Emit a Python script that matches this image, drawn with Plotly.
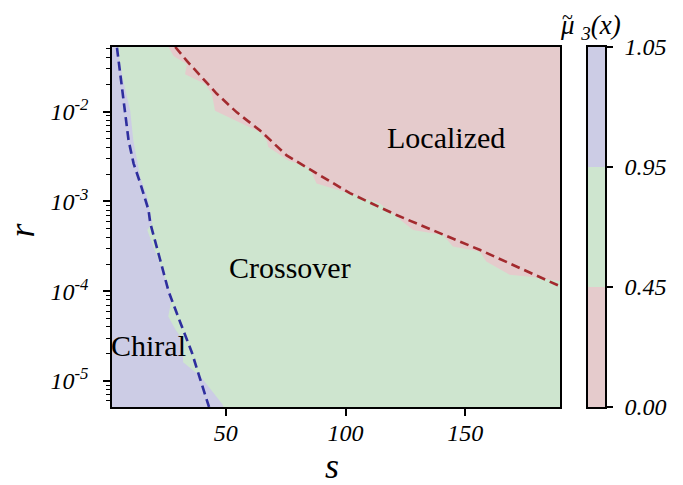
import plotly.graph_objects as go

# ---------------- data ----------------
# Chiral / crossover boundary (s, log10 r), from top to bottom
chiral_s = [4.7, 7.2, 10.1, 11.4, 14.3, 17.2, 19.3, 17.2, 23.5, 27.6, 26.0, 28.9, 31.8, 32.2, 39.3, 48.5, 49.0]
chiral_logr = [-1.28, -1.657, -1.989, -2.321, -2.731, -2.952, -3.240, -3.318, -3.761, -4.060, -4.281, -4.425,
               -4.536, -4.791, -4.946, -5.256, -5.29]

# Localized / crossover boundary (s, log10 r), from left to right
local_s = [26.1, 28.2, 33.75, 33.0, 41.4, 44.2, 45.5, 64.3, 67.1, 67.75, 76.1, 78.2, 85.1, 87.9, 101.8,
           112.9, 114.3, 128.2, 140.7, 144.8, 156.0, 158.75, 168.5, 178.2, 189.5]
local_logr = [-1.28, -1.38, -1.472, -1.583, -1.693, -1.804, -1.989, -2.229, -2.321, -2.395, -2.543, -2.561,
              -2.635, -2.801, -2.911, -3.004, -3.022, -3.318, -3.373, -3.503, -3.558, -3.669, -3.816, -3.842, -3.89]

# Dashed fitted boundaries
fit_chiral_s = [4.58, 5.96, 8.04, 9.42, 11.5, 14.3, 17.75, 18.46, 22.6, 26.1, 31.0, 35.8, 39.3, 42.75, 43.0]
fit_chiral_logr = [-1.288, -1.579, -1.989, -2.321, -2.576, -2.797, -3.096, -3.240, -3.650, -4.001, -4.348,
                   -4.680, -4.979, -5.256, -5.29]
fit_local_s = [28.9, 33.75, 46.25, 54.6, 64.3, 75.4, 87.9, 101.8, 121.25, 128.0, 155.95, 189.5]
fit_local_logr = [-1.28, -1.435, -1.801, -2.008, -2.210, -2.487, -2.687, -2.908, -3.152, -3.229, -3.539, -3.945]

s_range = [2.5, 189.5]
logr_range = [-5.29, -1.28]

levels = [0.00, 0.45, 0.95, 1.05]
level_labels = ["0.00", "0.45", "0.95", "1.05"]

phase_names = ["Localized", "Crossover", "Chiral"]
phase_s = [141.8, 76.8, 17.6]
phase_logr = [-2.288, -3.739, -4.602]

x_ticks = [50, 100, 150]
y_decades = [-5, -4, -3, -2]

# ---------------- styles ----------------
C_BLUE = "#cccce5"
C_GREEN = "#cee5cf"
C_RED = "#e5cbcc"
L_BLUE = "#2e2e9e"
L_RED = "#a32a2e"
FONT = "Liberation Serif"

fig = go.Figure()

# Chiral region: left edge + boundary
bx = [s_range[0]] + chiral_s + [s_range[0]]
by = [logr_range[1]] + chiral_logr + [logr_range[0]]
fig.add_trace(go.Scatter(x=bx, y=[10 ** v for v in by], fill="toself", fillcolor=C_BLUE,
                         mode="lines", line=dict(width=0, color=C_BLUE), hoverinfo="skip", showlegend=False))

# Localized region: boundary + top-right corner
rx = local_s + [s_range[1], local_s[0]]
ry = local_logr + [logr_range[1], logr_range[1]]
fig.add_trace(go.Scatter(x=rx, y=[10 ** v for v in ry], fill="toself", fillcolor=C_RED,
                         mode="lines", line=dict(width=0, color=C_RED), hoverinfo="skip", showlegend=False))

# Dashed fits
fig.add_trace(go.Scatter(x=fit_chiral_s, y=[10 ** v for v in fit_chiral_logr], mode="lines",
                         line=dict(color=L_BLUE, width=2.6, dash="9px,5px"), showlegend=False))
fig.add_trace(go.Scatter(x=fit_local_s, y=[10 ** v for v in fit_local_logr], mode="lines",
                         line=dict(color=L_RED, width=2.6, dash="9px,5px"), showlegend=False))

# Phase labels
for name, sx, ly in zip(phase_names, phase_s, phase_logr):
    fig.add_annotation(x=sx, y=ly, xref="x", yref="y", text=name, showarrow=False,
                       font=dict(family=FONT, size=30, color="black"))

# Colorbar drawn as a small heatmap on its own axes (evenly spaced bands)
n = len(levels) - 1
band_colors = [C_RED, C_GREEN, C_BLUE]
cs = []
for i, c in enumerate(band_colors):
    cs.append([i / n, c])
    cs.append([(i + 1) / n, c])
fig.add_trace(go.Heatmap(z=[[i] for i in range(n)], x=[0.5], y=[i + 0.5 for i in range(n)],
                         zmin=-0.5, zmax=n - 0.5, colorscale=cs, showscale=False, hoverinfo="skip",
                         xaxis="x2", yaxis="y2"))

# Colorbar title  (tilde drawn over mu)
fig.add_annotation(x=0.9047, y=1.0, xref="paper", yref="paper", yshift=1, xanchor="left", yanchor="bottom",
                   text="<i>μ <sub>3</sub>(x)</i>", showarrow=False,
                   font=dict(family=FONT, size=27, color="black"))
fig.add_annotation(x=0.9047, y=1.0, xref="paper", yref="paper", xshift=2, yshift=17, xanchor="left",
                   yanchor="bottom", text="~", showarrow=False,
                   font=dict(family=FONT, size=20, color="black"))

# Axis titles
fig.add_annotation(x=0.446, y=0, xref="paper", yref="paper", yshift=-81, xanchor="center", yanchor="bottom",
                   text="<i>s</i>", showarrow=False, font=dict(family=FONT, size=36, color="black"))
fig.add_annotation(x=0, y=0.49, xref="paper", yref="paper", xshift=-90, xanchor="center", yanchor="middle",
                   text="<i>r</i>", textangle=-90, showarrow=False, font=dict(family=FONT, size=36, color="black"))

minor_vals = [m * 10 ** d for d in range(-6, -1) for m in range(2, 10)]

axis_common = dict(showline=True, linecolor="black", linewidth=1.5, mirror=True,
                   showgrid=False, zeroline=False, automargin=False)

fig.update_layout(
    width=683, height=485,
    margin=dict(l=112, r=78, t=47, b=78),
    paper_bgcolor="white", plot_bgcolor=C_GREEN,
    font=dict(family=FONT, color="black"),
    showlegend=False,
    xaxis=dict(domain=[0, 0.9087], range=s_range, tickmode="array", tickvals=x_ticks,
               ticktext=[f"<i>{v}</i>" for v in x_ticks],
               tickfont=dict(family=FONT, size=24), ticks="outside", ticklen=7, tickwidth=1.5,
               tickcolor="black", ticklabelstandoff=-4, **axis_common),
    yaxis=dict(type="log", range=logr_range, tickmode="array",
               tickvals=[10 ** d for d in y_decades],
               ticktext=[f"<i>10<sup>{d}</sup></i>" for d in y_decades],
               tickfont=dict(family=FONT, size=24), ticks="outside", ticklen=7, tickwidth=1.5,
               tickcolor="black", ticklabelstandoff=10,
               minor=dict(tickmode="array", tickvals=minor_vals, ticks="outside", ticklen=4,
                          tickwidth=1, tickcolor="black", showgrid=False),
               **axis_common),
    xaxis2=dict(domain=[0.9655, 1.0], range=[0, 1], anchor="y2", showticklabels=False, ticks="",
                **axis_common),
    yaxis2=dict(domain=[0, 1], range=[0, n], anchor="x2", side="right", tickmode="array",
                tickvals=list(range(len(levels))), ticktext=[f"<i>{t}</i>" for t in level_labels],
                tickfont=dict(family=FONT, size=24), ticks="outside", ticklen=6, tickwidth=1.5,
                tickcolor="black", ticklabelstandoff=7, **axis_common),
)

fig.write_html("out.html", config={"displayModeBar": False},
               post_script="document.body.style.margin='0';")
